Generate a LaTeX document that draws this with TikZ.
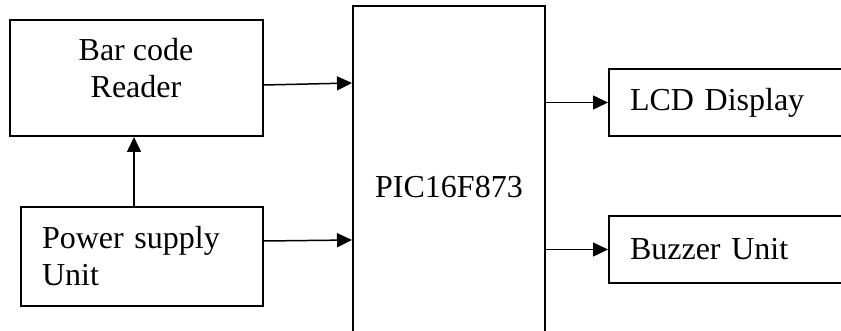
\documentclass[tikz,border=0pt]{standalone}
\usepackage{fontspec}
\setmainfont{Liberation Serif}
\usetikzlibrary{arrows.meta, positioning, calc}
\newcommand{\blockfont}{\fontsize{16}{18.5}\selectfont}
\tikzset{
    blockbox/.style={
        rectangle,
        draw=black,
        line width=1pt,
        inner sep=0pt
    },
    sidebox/.style={
        rectangle,
        draw=black,
        line width=1pt,
        align=left,
        inner xsep=10.5pt,
        inner ysep=0pt,
        font=\blockfont
    },
    outbox/.style={
        sidebox,
        anchor=west,
        text width=104pt,
        minimum width=125pt,
        minimum height=33.5pt
    },
    blocktext/.style={align=center, inner sep=0pt, font=\blockfont},
    flowarrow/.style={-{Triangle[length=7.5pt, width=7pt]}, line width=0.75pt, draw=black}
}

\begin{document}
\begin{tikzpicture}[x=0.5pt, y=-0.5pt]
    \useasboundingbox (0,0) rectangle (841,331);
    % input side
    \node[blockbox, minimum width=126.5pt, minimum height=58pt] (bar) at (136.5,78) {};
    \node[blocktext] (bartext) at (136,68) {Bar code\\Reader};
    \node[sidebox, text width=100pt, minimum width=121pt, minimum height=49.5pt] (power) at (142,256.5) {Power supply\\Unit};
    % controller
    \node[blockbox, font=\blockfont, minimum width=96pt, minimum height=181pt] (pic) at (449,187) {PIC16F873};
    % output side
    \node[outbox] (lcd) at (608,102.5) {LCD Display};
    \node[outbox] (buzzer) at (608,249.5) {Buzzer Unit};
    \draw[flowarrow] ([xshift=-4pt]power.north) -- ([xshift=-4pt]power.north |- bar.south);
    \draw[flowarrow] ([yshift=-3.5pt]bar.east) -- ([yshift=-2.5pt]bar.east -| pic.west);
    \draw[flowarrow] ([yshift=7.75pt]power.east) -- ([yshift=8.25pt]power.east -| pic.west);
    \draw[flowarrow] (pic.east |- lcd.west) -- (lcd.west);
    \draw[flowarrow] (pic.east |- buzzer.west) -- (buzzer.west);
\end{tikzpicture}
\end{document}
